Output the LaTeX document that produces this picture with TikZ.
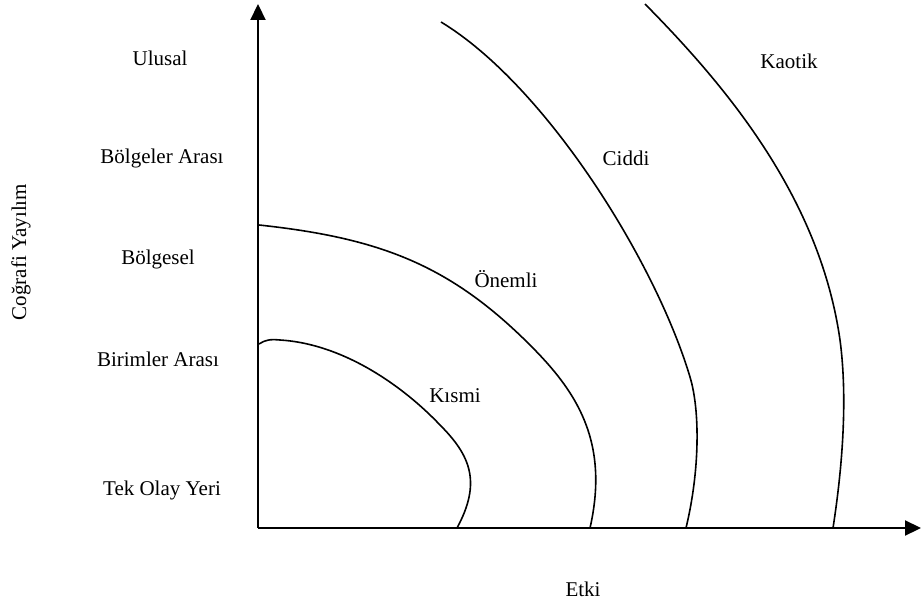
\documentclass[tikz,border=0pt]{standalone}
\usepackage{fontspec}
\setmainfont{Liberation Serif}
\usetikzlibrary{arrows.meta}
\begin{document}
\begin{tikzpicture}[x=1pt,y=-1pt,
  lbl/.style={font=\fontsize{21}{25}\selectfont, inner sep=0pt},
  axisline/.style={line width=2.2pt, -{Triangle[width=15pt,length=16pt]}},
  zone/.style={line width=1.6pt}]
\useasboundingbox (0,0) rectangle (921,610);
\coordinate (O) at (258,528);
\coordinate (ytop) at (258,4);
\coordinate (xend) at (921,528);
\draw[axisline] (O) -- (ytop);
\draw[axisline] (O) -- (xend);
% zone boundaries
\draw[zone] (259,344) .. controls (265,340) and (270,339) .. (280,340)
  .. controls (345,344) and (405,388) .. (440,425)
  .. controls (470,455) and (482,482) .. (457,528);
\draw[zone] (259,225) .. controls (380,238) and (450,265) .. (530,345)
  .. controls (575,390) and (610,440) .. (590,528);
\draw[zone] (441,22) .. controls (545,85) and (655,260) .. (690,377)
  .. controls (700,410) and (700,470) .. (686,528);
\draw[zone] (645,4) .. controls (730,90) and (820,200) .. (840,340)
  .. controls (848,400) and (842,470) .. (833,528);
% labels
\node[lbl] (ulusal) at (160,58) {Ulusal};
\node[lbl] (bolgelerarasi) at (162,158) {Bölgeler Arası};
\node[lbl] (bolgesel) at (158,259) {Bölgesel};
\node[lbl] (birimlerarasi) at (158,359) {Birimler Arası};
\node[lbl] (tekolay) at (162,490) {Tek Olay Yeri};
\node[lbl, rotate=90] (cografi) at (21,252) {Coğrafi Yayılım};
\node[lbl] (etki) at (583,589) {Etki};
\node[lbl] (kismi) at (455,396) {Kısmi};
\node[lbl] (onemli) at (506,279) {Önemli};
\node[lbl] (ciddi) at (626,158) {Ciddi};
\node[lbl] (kaotik) at (789,61) {Kaotik};
\end{tikzpicture}
\end{document}
